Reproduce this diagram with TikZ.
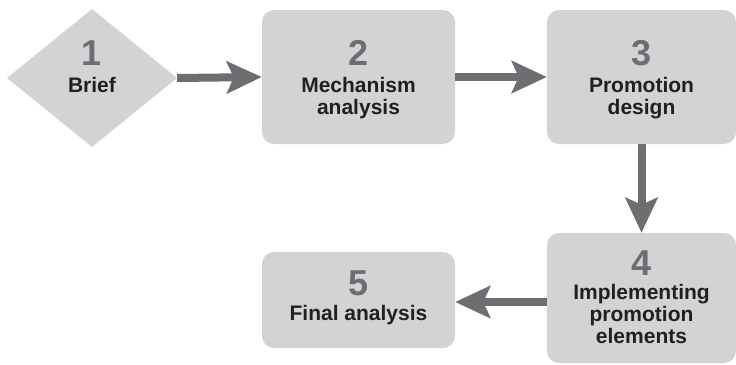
\documentclass[tikz,border=0pt]{standalone}
\usepackage{fontspec}
\setmainfont{Liberation Sans}
\usetikzlibrary{shapes.geometric,arrows.meta}
\definecolor{boxfill}{HTML}{D1D3D4}
\definecolor{arrowgray}{HTML}{6D6E71}
\definecolor{numgray}{HTML}{6D6E71}
\definecolor{labblack}{HTML}{231F20}
\tikzset{
  stepbox/.style={draw=none, fill=boxfill, rounded corners=12pt, inner sep=0pt},
  stepdiamond/.style={draw=none, fill=boxfill, diamond, inner sep=0pt},
  numtext/.style={font=\fontsize{36}{36}\selectfont\bfseries, text=numgray, inner sep=0pt, anchor=base},
  labtext/.style={font=\fontsize{21}{22}\selectfont\bfseries, text=labblack, inner sep=0pt, anchor=base, align=center},
  flow/.style={draw=arrowgray, line width=8pt, -{Stealth[length=35pt,width=32pt,inset=7pt]}}
}
\begin{document}
\begin{tikzpicture}[x=1pt,y=-1pt]
\useasboundingbox (0,0) rectangle (736,364);
\node[stepdiamond, minimum width=170pt, minimum height=138pt] (d1) at (92,78) {};
\node[stepbox, minimum width=193pt, minimum height=134pt] (b2) at (358.5,77) {};
\node[stepbox, minimum width=189pt, minimum height=134pt] (b3) at (641.5,77) {};
\node[stepbox, minimum width=189pt, minimum height=130pt] (b4) at (641.5,298) {};
\node[stepbox, minimum width=193pt, minimum height=96pt] (b5) at (358.5,300) {};
% texts (base anchor of a multi-line node is its last line)
\node[numtext] (n1) at (92,65) {1};
\node[labtext] (l1) at (92,92) {Brief};
\node[numtext] (n2) at (358.5,65) {2};
\node[labtext] (l2) at (358.5,114) {Mechanism\\analysis};
\node[numtext] (n3) at (641.5,65) {3};
\node[labtext] (l3) at (641.5,114) {Promotion\\design};
\node[numtext] (n4) at (641.5,275) {4};
\node[labtext] (l4) at (641.5,343) {Implementing\\promotion\\elements};
\node[numtext] (n5) at (358.5,295) {5};
\node[labtext] (l5) at (358.5,320) {Final analysis};
% connectors
\coordinate (a4s) at (b4.west |- 0,302);
\coordinate (a4e) at (b5.east |- 0,302);
\draw[flow] (d1.east) -- (b2.west);
\draw[flow] (b2.east) -- (b3.west);
\draw[flow] (b3.south) -- (b4.north);
\draw[flow] (a4s) -- (a4e);
\end{tikzpicture}
\end{document}
